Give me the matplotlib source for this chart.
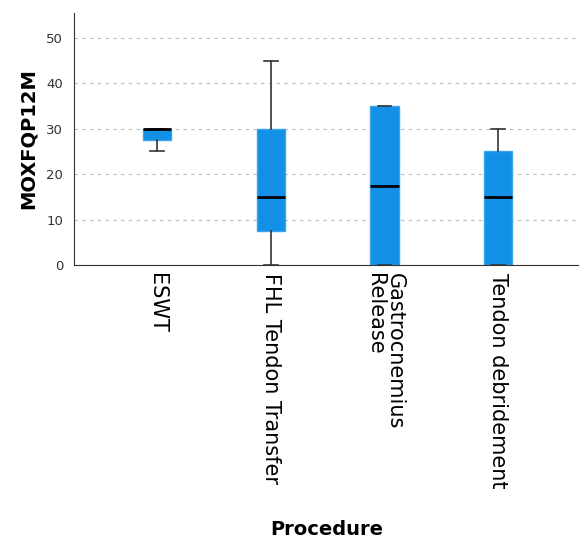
import matplotlib.pyplot as plt

procedures = ["ESWT", "FHL Tendon Transfer", "Gastrocnemius\nRelease", "Tendon debridement"]
whisker_low = [25, 0, 0, 0]
q1 = [27.5, 7.5, 0, 0]
median = [30, 15, 17.5, 15]
q3 = [30, 30, 35, 25]
whisker_high = [30, 45, 35, 30]

stats = []
for i in range(len(procedures)):
    stats.append({"whislo": whisker_low[i], "q1": q1[i], "med": median[i],
                  "q3": q3[i], "whishi": whisker_high[i], "fliers": []})

fig = plt.figure(figsize=(5.79, 5.43), dpi=100)
ax = fig.add_axes([0.128, 0.512, 0.872, 0.464])

ax.bxp(stats, positions=[1, 2, 3, 4], widths=0.25, capwidths=0.12,
       patch_artist=True, showfliers=False,
       boxprops=dict(facecolor="#1190e6", edgecolor="#3aa5ee", linewidth=1),
       medianprops=dict(color="black", linewidth=2),
       whiskerprops=dict(color="#333333", linewidth=1.2),
       capprops=dict(color="#333333", linewidth=1.2))

ax.set_xlim(0.27, 4.71)
ax.set_ylim(0, 55.5)
ax.set_yticks([0, 10, 20, 30, 40, 50])
ax.yaxis.grid(True, linestyle=(0, (3, 4)), color="#bbbbbb", linewidth=0.8)
ax.set_axisbelow(True)
ax.spines["top"].set_visible(False)
ax.spines["right"].set_visible(False)
ax.spines["left"].set_color("#333333")
ax.spines["bottom"].set_color("#333333")
ax.tick_params(axis="y", length=0, labelsize=9.5, labelcolor="#333333", pad=8)
ax.tick_params(axis="x", length=0, pad=6)
ax.set_xticks([1, 2, 3, 4])
ax.set_xticklabels(procedures, rotation=270, fontsize=15, va="top", ha="center",
                   multialignment="left", linespacing=1.0)

ax.set_ylabel("MOXFQP12M", fontsize=14, fontweight="bold", labelpad=6)
fig.text(0.565, 0.024, "Procedure", fontsize=14, fontweight="bold", ha="center", va="center")

fig.savefig("out.png", dpi=100)
